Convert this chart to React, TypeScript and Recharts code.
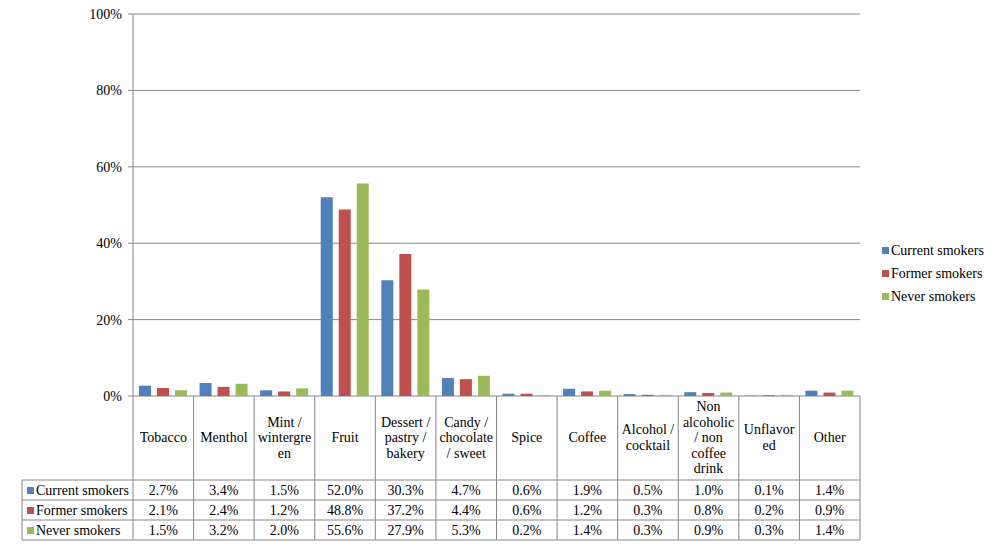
import React from 'react';
import { BarChart, Bar, XAxis, YAxis, CartesianGrid } from 'recharts';

// flavour categories (\n = where the label wraps in the table)
const categories = [
  'Tobacco',
  'Menthol',
  'Mint /\nwintergre\nen',
  'Fruit',
  'Dessert /\npastry /\nbakery',
  'Candy /\nchocolate\n/ sweet',
  'Spice',
  'Coffee',
  'Alcohol /\ncocktail',
  'Non\nalcoholic\n/ non\ncoffee\ndrink',
  'Unflavor\ned',
  'Other',
];

const current = [2.7, 3.4, 1.5, 52.0, 30.3, 4.7, 0.6, 1.9, 0.5, 1.0, 0.1, 1.4];
const former = [2.1, 2.4, 1.2, 48.8, 37.2, 4.4, 0.6, 1.2, 0.3, 0.8, 0.2, 0.9];
const never = [1.5, 3.2, 2.0, 55.6, 27.9, 5.3, 0.2, 1.4, 0.3, 0.9, 0.3, 1.4];

const yTicks = [0, 20, 40, 60, 80, 100];

const series = [
  { key: 'current', name: 'Current smokers', color: '#4F81BD', values: current },
  { key: 'former', name: 'Former smokers', color: '#C0504D', values: former },
  { key: 'never', name: 'Never smokers', color: '#9BBB59', values: never },
];

const data = categories.map((c, i) => ({
  category: c,
  current: current[i],
  former: former[i],
  never: never[i],
}));

const W = 998;
const H = 547;
const PLOT_LEFT = 133;
const PLOT_RIGHT = 860;
const PLOT_BOTTOM = 396;
const TABLE_LEFT = 22;
const ROW_TOP = 480;
const ROW_H = 20;
const FONT = 'Liberation Serif, DejaVu Serif, serif';
const GRID = '#868686';

const bandW = (PLOT_RIGHT - PLOT_LEFT) / categories.length;

const TableTick = (props: any) => {
  const { x, y, payload } = props;
  const i = payload.index;
  const half = bandW / 2;
  const bottom = ROW_TOP + ROW_H * series.length;
  const lines = String(payload.value).split('\n');
  const lineH = 15.5;
  const labelMid = (y + ROW_TOP) / 2 + 4;
  const firstY = labelMid - ((lines.length - 1) * lineH) / 2;
  return (
    <g>
      <line x1={x + half} x2={x + half} y1={y} y2={bottom} stroke={GRID} />
      {i === 0 && (
        <g>
          <line x1={x - half} x2={x - half} y1={y} y2={bottom} stroke={GRID} />
          <line x1={TABLE_LEFT} x2={TABLE_LEFT} y1={ROW_TOP} y2={bottom} stroke={GRID} />
          {series.map((s, r) => (
            <g key={s.key}>
              <line
                x1={TABLE_LEFT}
                x2={x - half}
                y1={ROW_TOP + r * ROW_H}
                y2={ROW_TOP + r * ROW_H}
                stroke={GRID}
              />
              <rect x={TABLE_LEFT + 5} y={ROW_TOP + r * ROW_H + 7} width={7} height={7} fill={s.color} />
              <text
                x={TABLE_LEFT + 14}
                y={ROW_TOP + r * ROW_H + 15}
                fontSize={14}
                fontFamily={FONT}
                fill="#000"
              >
                {s.name}
              </text>
            </g>
          ))}
          <line x1={TABLE_LEFT} x2={x - half} y1={bottom} y2={bottom} stroke={GRID} />
        </g>
      )}
      {lines.map((l, k) => (
        <text
          key={k}
          x={x}
          y={firstY + k * lineH}
          textAnchor="middle"
          fontSize={14}
          fontFamily={FONT}
          fill="#000"
        >
          {l}
        </text>
      ))}
      {series.map((s, r) => (
        <g key={s.key}>
          <line
            x1={x - half}
            x2={x + half}
            y1={ROW_TOP + r * ROW_H}
            y2={ROW_TOP + r * ROW_H}
            stroke={GRID}
          />
          <text
            x={x}
            y={ROW_TOP + r * ROW_H + 15}
            textAnchor="middle"
            fontSize={14}
            fontFamily={FONT}
            fill="#000"
          >
            {s.values[i].toFixed(1) + '%'}
          </text>
        </g>
      ))}
      <line x1={x - half} x2={x + half} y1={bottom} y2={bottom} stroke={GRID} />
    </g>
  );
};

export default function App() {
  return (
    <div style={{ position: 'absolute', left: 0, top: 0, width: W, height: H, background: '#fff', fontFamily: FONT }}>
      <BarChart
        width={W}
        height={H}
        data={data}
        margin={{ top: 14, right: W - PLOT_RIGHT, left: PLOT_LEFT - 60, bottom: 6 }}
        barSize={12}
        barGap={6}
      >
        <CartesianGrid vertical={false} stroke={GRID} />
        <XAxis
          dataKey="category"
          interval={0}
          height={H - PLOT_BOTTOM - 6}
          tickLine={false}
          axisLine={false}
          tickSize={0}
          tickMargin={0}
          tick={<TableTick />}
        />
        <YAxis
          width={60}
          domain={[0, 100]}
          ticks={yTicks}
          tickFormatter={(v: number) => v + '%'}
          axisLine={{ stroke: GRID }}
          tickLine={{ stroke: GRID }}
          tickSize={5}
          tickMargin={6}
          tick={{ fontSize: 14, fontFamily: FONT, fill: '#000' }}
        />
        {series.map((s) => (
          <Bar key={s.key} dataKey={s.key} name={s.name} fill={s.color} isAnimationActive={false} />
        ))}
      </BarChart>
      <div style={{ position: 'absolute', left: 882, top: 239, fontSize: 14 }}>
        {series.map((s) => (
          <div key={s.key} style={{ display: 'flex', alignItems: 'center', height: 23 }}>
            <span style={{ display: 'inline-block', width: 7, height: 7, background: s.color, marginRight: 2 }} />
            <span>{s.name}</span>
          </div>
        ))}
      </div>
    </div>
  );
}
